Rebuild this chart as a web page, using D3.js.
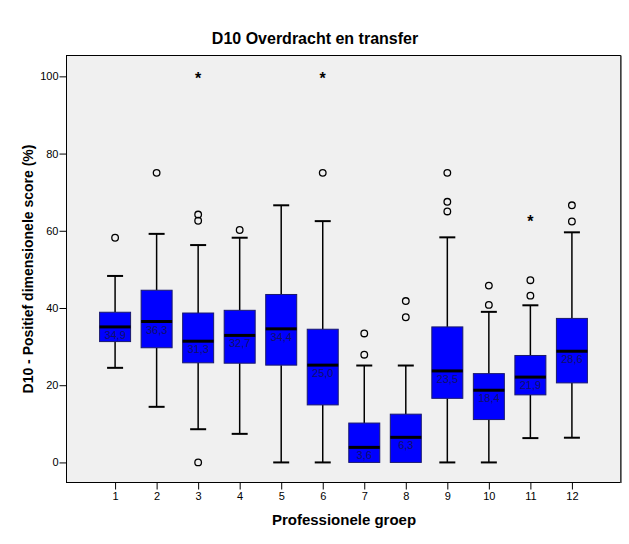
<!DOCTYPE html>
<html>
<head>
<meta charset="utf-8">
<script src="https://cdn.jsdelivr.net/npm/d3@7"></script>
<style>
  body { margin: 0; background: #fff; }
  svg text { font-family: "Liberation Sans", Arial, sans-serif; }
</style>
</head>
<body>
<div id="chart"></div>
<script>
// box plot data
const groups = ['1', '2', '3', '4', '5', '6', '7', '8', '9', '10', '11', '12'];
const whiskerLow = [24.5, 14.4, 8.6, 7.4, 0, 0, 0, 0, 0, 0, 6.3, 6.4];
const q1 = [31.3, 29.7, 25.8, 25.7, 25.2, 14.9, 0, 0, 16.6, 11.1, 17.5, 20.6];
const median = [35.1, 36.5, 31.4, 32.9, 34.6, 25.2, 3.9, 6.5, 23.7, 18.7, 22.1, 28.8];
const q3 = [38.9, 44.6, 38.7, 39.4, 43.5, 34.5, 10.2, 12.5, 35.1, 23.0, 27.7, 37.3];
const whiskerHigh = [48.3, 59.2, 56.3, 58.2, 66.6, 62.5, 25.1, 25.1, 58.3, 39.0, 40.7, 59.6];
const medianLabels = ['34,9', '36,3', '31,3', '32,7', '34,4', '25,0', '3,6', '6,3', '23,5', '18,4', '21,9', '28,6'];
const outliers = [[58.2], [75.0], [64.2, 62.6, 0], [60.2], [], [75.0], [27.9, 33.4], [37.6, 41.8],
  [75.0, 67.5, 65.0], [40.8, 45.8], [43.2, 47.2], [62.4, 66.6]];
const extremes = [[], [], [100], [], [], [100], [], [], [], [], [63.1], []];
const yTicks = [0, 20, 40, 60, 80, 100];

const W = 629, H = 544;
const frame = { left: 66.5, right: 620.5, top: 55.5, bottom: 482.5 };

const svg = d3.select('#chart').append('svg')
  .attr('width', W)
  .attr('height', H);

const x = d3.scalePoint()
  .domain(groups)
  .range([frame.left, frame.right])
  .padding(1.17);

const y = d3.scaleLinear()
  .domain([-5.2, 105.4])
  .range([frame.bottom, frame.top]);

// plot area
svg.append('rect')
  .attr('x', frame.left)
  .attr('y', frame.top)
  .attr('width', frame.right - frame.left)
  .attr('height', frame.bottom - frame.top)
  .attr('fill', '#f0f0f0')
  .attr('stroke', '#000')
  .attr('stroke-width', 1);
svg.append('line')
  .attr('x1', frame.right + 0.5).attr('x2', frame.right + 0.5)
  .attr('y1', frame.top).attr('y2', frame.bottom + 0.5)
  .attr('stroke', '#555').attr('stroke-width', 1.5);

// axes
const yAxis = svg.append('g')
  .attr('transform', `translate(${frame.left},0)`)
  .call(d3.axisLeft(y).tickValues(yTicks).tickSize(7).tickSizeOuter(0));
const xAxis = svg.append('g')
  .attr('transform', `translate(0,${frame.bottom})`)
  .call(d3.axisBottom(x).tickSize(7).tickSizeOuter(0));
[yAxis, xAxis].forEach(a => {
  a.select('.domain').remove();
  a.selectAll('text').attr('font-size', 11).attr('fill', '#000');
  a.selectAll('line').attr('stroke', '#000');
});
yAxis.selectAll('text').attr('x', -8);
xAxis.selectAll('text').attr('y', 10);

const boxW = 31, capW = 16;
const g = svg.append('g');

groups.forEach((grp, i) => {
  const cx = x(grp);
  const b = g.append('g');
  // whiskers
  b.append('line')
    .attr('x1', cx).attr('x2', cx)
    .attr('y1', y(whiskerHigh[i])).attr('y2', y(q3[i]))
    .attr('stroke', '#000').attr('stroke-width', 1.5);
  b.append('line')
    .attr('x1', cx).attr('x2', cx)
    .attr('y1', y(q1[i])).attr('y2', y(whiskerLow[i]))
    .attr('stroke', '#000').attr('stroke-width', 1.5);
  [whiskerHigh[i], whiskerLow[i]].forEach(v => {
    if (v === q1[i]) return;
    b.append('line')
      .attr('x1', cx - capW / 2).attr('x2', cx + capW / 2)
      .attr('y1', y(v)).attr('y2', y(v))
      .attr('stroke', '#000').attr('stroke-width', 2);
  });
  // box
  b.append('rect')
    .attr('x', cx - boxW / 2)
    .attr('y', y(q3[i]))
    .attr('width', boxW)
    .attr('height', y(q1[i]) - y(q3[i]))
    .attr('fill', '#0000ff')
    .attr('stroke', '#1a1a6e')
    .attr('stroke-width', 1);
  b.append('line')
    .attr('x1', cx - boxW / 2).attr('x2', cx + boxW / 2)
    .attr('y1', y(median[i])).attr('y2', y(median[i]))
    .attr('stroke', '#000').attr('stroke-width', 3);
  b.append('text')
    .attr('x', cx)
    .attr('y', y(median[i]) + 12)
    .attr('text-anchor', 'middle')
    .attr('font-size', 11)
    .attr('fill', '#10106a')
    .text(medianLabels[i]);
  // outliers
  outliers[i].forEach(v => {
    b.append('circle')
      .attr('cx', cx).attr('cy', y(v)).attr('r', 3.3)
      .attr('fill', 'none').attr('stroke', '#000').attr('stroke-width', 1.3);
  });
  extremes[i].forEach(v => {
    b.append('text')
      .attr('x', cx).attr('y', y(v) + 8)
      .attr('text-anchor', 'middle')
      .attr('font-size', 16)
      .attr('font-weight', 'bold')
      .attr('fill', '#000')
      .text('*');
  });
});

// titles
svg.append('text')
  .attr('x', 315).attr('y', 44)
  .attr('text-anchor', 'middle')
  .attr('font-size', 16)
  .attr('font-weight', 'bold')
  .text('D10 Overdracht en transfer');

svg.append('text')
  .attr('x', 344).attr('y', 525)
  .attr('text-anchor', 'middle')
  .attr('font-size', 15)
  .attr('font-weight', 'bold')
  .text('Professionele groep');

svg.append('text')
  .attr('transform', `translate(28,${(frame.top + frame.bottom) / 2}) rotate(-90)`)
  .attr('text-anchor', 'middle')
  .attr('dy', '0.35em')
  .attr('font-size', 14)
  .attr('font-weight', 'bold')
  .text('D10 - Positief dimensionele score (%)');
</script>
</body>
</html>
